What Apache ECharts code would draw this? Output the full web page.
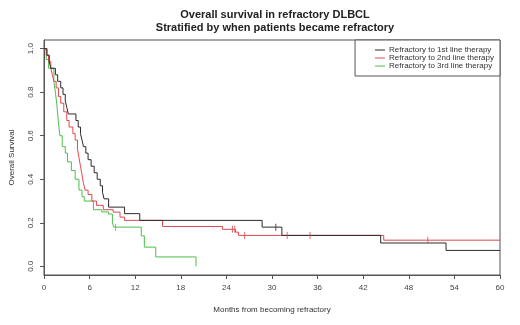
<!DOCTYPE html>
<html><head><meta charset="utf-8">
<script src="https://cdn.jsdelivr.net/npm/echarts@6/dist/echarts.min.js"></script>
<style>html,body{margin:0;padding:0;background:#fff}#c{width:520px;height:325px}</style>
</head><body><div id="c"></div>
<script>
const xTicks = [0, 6, 12, 18, 24, 30, 36, 42, 48, 54, 60];
const yTicks = [0, 0.2, 0.4, 0.6, 0.8, 1.0];
const seriesNames = ["Refractory to 1st line therapy", "Refractory to 2nd line therapy", "Refractory to 3rd line therapy"];

const line1Times = [0, 0.4, 0.7, 0.9, 1.5, 1.8, 2.2, 2.5, 2.8, 3.0, 3.2, 4.2, 4.5, 4.8, 5.0, 5.2, 5.5, 5.8, 6.2, 6.6, 7.0, 7.4, 7.7, 7.9, 8.5, 10.6, 12.6, 28.7, 31.3, 44.3, 52.9, 60];
const line1Surv  = [1.0, 0.97, 0.94, 0.91, 0.88, 0.85, 0.82, 0.79, 0.76, 0.73, 0.70, 0.67, 0.64, 0.61, 0.58, 0.55, 0.52, 0.49, 0.46, 0.43, 0.40, 0.37, 0.34, 0.31, 0.272, 0.242, 0.211, 0.18, 0.142, 0.107, 0.073, 0.073];
const line1CensorT = [30.5];
const line1CensorS = [0.18];

const line2Times = [0, 0.3, 0.6, 0.9, 1.1, 1.3, 1.6, 1.9, 2.2, 2.6, 3.0, 3.3, 3.8, 4.1, 4.4, 4.6, 4.8, 5.0, 5.2, 5.4, 5.8, 6.3, 6.9, 7.8, 9.1, 10.0, 10.6, 15.6, 23.5, 25.2, 25.6, 44.7, 60];
const line2Surv  = [1.0, 0.97, 0.94, 0.91, 0.88, 0.85, 0.82, 0.78, 0.75, 0.71, 0.67, 0.64, 0.61, 0.58, 0.54, 0.50, 0.46, 0.42, 0.38, 0.35, 0.33, 0.30, 0.28, 0.26, 0.249, 0.226, 0.211, 0.183, 0.17, 0.157, 0.142, 0.12, 0.12];
const line2CensorT = [24.8, 25.1, 26.4, 32.0, 35.0, 50.5];
const line2CensorS = [0.17, 0.17, 0.142, 0.142, 0.142, 0.12];

const line3Times = [0, 0.3, 0.6, 1.3, 1.5, 1.7, 1.9, 2.1, 2.4, 2.8, 3.1, 3.6, 4.1, 4.6, 5.0, 5.3, 6.5, 7.6, 8.5, 9.0, 9.2, 12.8, 13.2, 14.7, 20.0];
const line3Surv  = [1.0, 0.95, 0.91, 0.85, 0.80, 0.74, 0.66, 0.60, 0.55, 0.52, 0.48, 0.44, 0.40, 0.35, 0.32, 0.30, 0.26, 0.25, 0.24, 0.20, 0.18, 0.14, 0.088, 0.043, 0.0];
const line3CensorT = [9.4];
const line3CensorS = [0.18];

const colors = ['#2b2b2b', '#e0484e', '#4cbf4c'];
const font = 'Liberation Sans, Arial, sans-serif';

function pairs(t, s) { return t.map((v, i) => [v, s[i]]); }

const times = [line1Times, line2Times, line3Times];
const survs = [line1Surv, line2Surv, line3Surv];
const cT = [line1CensorT, line2CensorT, line3CensorT];
const cS = [line1CensorS, line2CensorS, line3CensorS];

const series = [];
for (let i = 0; i < 3; i++) {
  series.push({
    name: seriesNames[i], type: 'line', step: 'end', data: pairs(times[i], survs[i]),
    symbol: 'none', lineStyle: { color: colors[i], width: 1 }, itemStyle: { color: colors[i] },
    animation: false, z: 3 - i + 2
  });
}
for (let i = 0; i < 3; i++) {
  series.push({
    type: 'scatter', data: pairs(cT[i], cS[i]),
    symbol: 'path://M0,0 L1,0 L1,10 L0,10 Z', symbolSize: [1, 7],
    itemStyle: { color: colors[i] }, animation: false, silent: true, z: 6
  });
}

const chart = echarts.init(document.getElementById('c'));
chart.setOption({
  backgroundColor: '#fff',
  animation: false,
  title: {
    text: 'Overall survival in refractory DLBCL\nStratified by when patients became refractory',
    left: 270, top: 3, textAlign: 'center',
    textStyle: { fontFamily: font, fontSize: 11, fontWeight: 'bold', color: '#222', lineHeight: 13 }
  },
  legend: {
    data: seriesNames, orient: 'vertical', right: 20, top: 40,
    backgroundColor: '#fff', borderColor: '#555', borderWidth: 1,
    padding: [6, 6, 6, 20], itemGap: 0, itemWidth: 10, itemHeight: 10,
    icon: 'path://M0,0 L10,0 L10,1 L0,1 Z',
    textStyle: { fontFamily: font, fontSize: 8, color: '#333', padding: [0, 0, 0, -1] }
  },
  grid: { left: 40, right: 20, top: 40, bottom: 50, show: true, borderColor: '#555', borderWidth: 1, backgroundColor: 'transparent' },
  xAxis: {
    type: 'value', min: 0, max: 60, interval: 6,
    name: 'Months from becoming refractory', nameLocation: 'middle', nameGap: 31,
    nameTextStyle: { fontFamily: font, fontSize: 8, color: '#333' },
    axisLine: { show: true, onZero: false, lineStyle: { color: '#555' } },
    axisTick: { show: true, length: 4, lineStyle: { color: '#555' } },
    axisLabel: { fontFamily: font, fontSize: 8, color: '#444', margin: 9, customValues: xTicks },
    splitLine: { show: false }
  },
  yAxis: {
    type: 'value', min: -0.04, max: 1.04,
    name: 'Overall Survival', nameLocation: 'middle', nameGap: 28, nameRotate: 90,
    nameTextStyle: { fontFamily: font, fontSize: 8, color: '#333' },
    axisLine: { show: true, onZero: false, lineStyle: { color: '#555' } },
    axisTick: { show: true, length: 4, lineStyle: { color: '#555' }, customValues: yTicks },
    axisLabel: { fontFamily: font, fontSize: 8, color: '#444', rotate: 90, margin: 9, customValues: yTicks,
      formatter: v => v.toFixed(1) },
    splitLine: { show: false }
  },
  series: series
});
</script></body></html>
